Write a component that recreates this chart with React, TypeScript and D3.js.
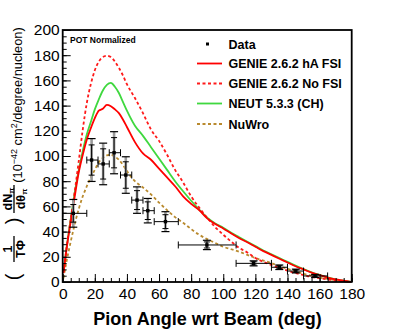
import * as d3 from "d3";
import { useEffect, useRef } from "react";

// pion angle grid used for the generator curves (deg)
const angleGrid = [0.5, 2.5, 5, 7.5, 10, 12.5, 15, 17.5, 20, 22.5, 25, 27.5, 30, 32.5, 35, 37.5, 40, 45, 50, 55, 60, 65, 70, 75, 80, 85, 90, 95, 100, 105, 110, 115, 120, 125, 130, 135, 140, 145, 150, 155, 160, 165, 170, 175, 179.5];

const genieHA = [7, 27, 48, 68, 87, 101, 113, 122, 130, 136, 137.5, 140.5, 139.5, 137, 134, 129, 123, 111, 102, 97, 90, 83, 76, 68, 62, 57, 50.5, 46, 42.5, 38.5, 34.7, 31.5, 28, 24.5, 21.5, 18.5, 15.5, 12.5, 10, 7.5, 5.5, 3.5, 2, 1, 0];
const genieNoFSI = [8, 28, 50, 72, 96, 121, 142, 157, 168, 175, 178.5, 179.5, 178.5, 175, 170, 164, 157, 146, 134, 121, 112, 101, 89, 79, 68, 59, 51, 43.5, 37.5, 32, 27, 23.5, 19, 16, 13.5, 11, 9, 7, 5.5, 4, 3, 2, 1.2, 0.5, 0];
const neut = [8, 28, 50, 71, 89, 104, 117, 127, 137, 145, 152, 156.5, 158, 155, 150, 143, 136, 124, 116, 107, 98, 89, 80, 72, 64.5, 57.5, 51, 46.5, 43, 39, 35.5, 32, 28.5, 25, 22, 19, 16, 13, 10.2, 7.7, 5.6, 3.6, 2.1, 1, 0];
const nuwro = [3, 17, 32, 46, 58, 68, 76, 83, 89, 95, 98.5, 100.5, 101, 99.5, 97, 93, 88, 80, 75, 69.5, 63, 57, 51.5, 47, 42, 37.5, 34, 31, 28, 26, 24, 21.5, 19, 17, 15, 12.5, 10.5, 8.5, 6.5, 5, 3.5, 2.5, 1.5, 0.7, 0];

// data points
const dataAngle = [6.6, 18, 25.2, 32, 39.3, 46.3, 53, 64, 89.8, 118.9, 134.9, 145.2, 157.2];
const binLow = [0, 15, 22, 29, 36, 43, 50, 57, 72, 108, 130, 140, 150];
const binHigh = [15, 22, 29, 36, 43, 50, 57, 72, 108, 130, 140, 150, 165];
const xsec = [54.5, 96.8, 93.7, 102.6, 84.9, 65, 56.6, 47.9, 29.4, 14.8, 11.7, 8.7, 4.8];
const totErr = [11, 17, 16.5, 16.7, 14.5, 10.5, 9.7, 7.9, 3.7, 2, 1.8, 1.5, 1.2];
const statErr = [7, 12, 12, 12, 10.5, 7.5, 7, 5.5, 2.4, 1.3, 1.2, 1, 0.8];

const legendNames = ["Data", "GENIE 2.6.2 hA FSI", "GENIE 2.6.2 No FSI", "NEUT 5.3.3 (CH)", "NuWro"];

const FONT = "'Liberation Sans', Arial, Helvetica, sans-serif";

export default function App() {
    const ref = useRef<SVGSVGElement>(null);

    useEffect(() => {
        const svg = d3.select(ref.current);
        svg.selectAll("*").remove();

        const width = 415;
        const height = 335;
        const left = 62.7, right = 351.7, top = 30, bottom = 282;

        svg.attr("width", width).attr("height", height).style("font-family", FONT);
        svg.append("rect").attr("width", width).attr("height", height).attr("fill", "white");

        const x = d3.scaleLinear().domain([0, 180]).range([left, right]);
        const y = d3.scaleLinear().domain([0, 200]).range([bottom, top]);

        const series = [
            { vals: genieHA, color: "#ff0000", dash: null },
            { vals: genieNoFSI, color: "#ff1a1a", dash: "3,2.5" },
            { vals: neut, color: "#3fd83f", dash: null },
            { vals: nuwro, color: "#b98a2e", dash: "3,2.5" },
        ];

        const line = d3.line<number>()
            .x((_, i) => x(angleGrid[i]))
            .y(d => y(d))
            .curve(d3.curveMonotoneX);

        // curves (green under red like ROOT draw order)
        [series[2], series[3], series[1], series[0]].forEach(s => {
            svg.append("path")
                .attr("d", line(s.vals))
                .attr("fill", "none")
                .attr("stroke", s.color)
                .attr("stroke-width", 1.8)
                .attr("stroke-dasharray", s.dash);
        });

        // data points
        const gd = svg.append("g");
        dataAngle.forEach((a, i) => {
            const cx = x(a), cy = y(xsec[i]);
            // total error: grey band + black caps
            gd.append("line").attr("x1", cx).attr("x2", cx)
                .attr("y1", y(xsec[i] - totErr[i])).attr("y2", y(xsec[i] + totErr[i]))
                .attr("stroke", "#9a9a9a").attr("stroke-width", 2.6);
            [xsec[i] - totErr[i], xsec[i] + totErr[i]].forEach(v => {
                gd.append("line").attr("x1", cx - 4).attr("x2", cx + 4)
                    .attr("y1", y(v)).attr("y2", y(v))
                    .attr("stroke", "black").attr("stroke-width", 1.2);
            });
            // stat error (black)
            gd.append("line").attr("x1", cx).attr("x2", cx)
                .attr("y1", y(xsec[i] - statErr[i])).attr("y2", y(xsec[i] + statErr[i]))
                .attr("stroke", "black").attr("stroke-width", 1);
            [xsec[i] - statErr[i], xsec[i] + statErr[i]].forEach(v => {
                gd.append("line").attr("x1", cx - 3).attr("x2", cx + 3)
                    .attr("y1", y(v)).attr("y2", y(v))
                    .attr("stroke", "black").attr("stroke-width", 1);
            });
            // bin width
            gd.append("line").attr("x1", x(binLow[i])).attr("x2", x(binHigh[i]))
                .attr("y1", cy).attr("y2", cy)
                .attr("stroke", "black").attr("stroke-width", 1);
            [binLow[i], binHigh[i]].forEach(b => {
                gd.append("line").attr("x1", x(b)).attr("x2", x(b))
                    .attr("y1", cy - 3.5).attr("y2", cy + 3.5)
                    .attr("stroke", "black").attr("stroke-width", 1);
            });
            gd.append("rect").attr("x", cx - 1.7).attr("y", cy - 1.7)
                .attr("width", 3.4).attr("height", 3.4).attr("fill", "black");
        });

        // axes: ticks pointing inward
        const xMajor = d3.axisBottom(x).tickValues(d3.range(0, 181, 20)).tickSizeInner(-8).tickSizeOuter(0).tickPadding(6);
        const xMinor = d3.axisBottom(x).tickValues(d3.range(0, 181, 5)).tickSizeInner(-4).tickSizeOuter(0).tickFormat(() => "");
        const yMajor = d3.axisLeft(y).tickValues(d3.range(0, 201, 20)).tickSizeInner(-8).tickSizeOuter(0).tickPadding(3);
        const yMinor = d3.axisLeft(y).tickValues(d3.range(0, 201, 5)).tickSizeInner(-4).tickSizeOuter(0).tickFormat(() => "");

        const ax = svg.append("g").attr("transform", `translate(0,${bottom})`);
        ax.append("g").call(xMinor);
        ax.append("g").call(xMajor);
        const ay = svg.append("g").attr("transform", `translate(${left},0)`);
        ay.append("g").call(yMinor);
        ay.append("g").call(yMajor);

        svg.selectAll(".domain").remove();
        svg.selectAll(".tick line").attr("stroke", "black").attr("stroke-width", 1);
        svg.selectAll(".tick text")
            .attr("fill", "black")
            .style("font-family", FONT)
            .style("font-size", "15.5px");

        // frame
        svg.append("rect")
            .attr("x", left).attr("y", top)
            .attr("width", right - left).attr("height", bottom - top)
            .attr("fill", "none").attr("stroke", "black").attr("stroke-width", 1.8);

        // x title
        svg.append("text")
            .attr("x", 207.5).attr("y", 325)
            .attr("text-anchor", "middle")
            .style("font-size", "18px").style("font-weight", "bold")
            .text("Pion Angle wrt Beam (deg)");

        // y title (rotated)
        const yt = svg.append("g").attr("transform", "rotate(-90)");
        const paren = (u: number, t: string) =>
            yt.append("text").attr("x", u).attr("y", 19.5).attr("text-anchor", "middle")
                .style("font-size", "20px").text(t);
        paren(-277, "(");
        paren(-221, ")");
        yt.append("text").attr("x", -249).attr("y", 12).attr("text-anchor", "middle")
            .style("font-size", "12.5px").style("font-weight", "bold").text("1");
        yt.append("line").attr("x1", -262).attr("x2", -236).attr("y1", 14).attr("y2", 14)
            .attr("stroke", "black").attr("stroke-width", 1.3);
        yt.append("text").attr("x", -249).attr("y", 24.5).attr("text-anchor", "middle")
            .style("font-size", "12.5px").style("font-weight", "bold").text("TΦ");

        const num = yt.append("text").attr("x", -199).attr("y", 12).attr("text-anchor", "middle")
            .style("font-size", "12.5px").style("font-weight", "bold");
        num.append("tspan").text("dN");
        num.append("tspan").attr("dy", 2).style("font-size", "8px").text("π");
        yt.append("line").attr("x1", -213).attr("x2", -185).attr("y1", 14).attr("y2", 14)
            .attr("stroke", "black").attr("stroke-width", 1.3);
        const den = yt.append("text").attr("x", -199).attr("y", 24.5).attr("text-anchor", "middle")
            .style("font-size", "12.5px").style("font-weight", "bold");
        den.append("tspan").text("dθ");
        den.append("tspan").attr("dy", 2).style("font-size", "8px").text("π");

        const units = yt.append("text").attr("x", -105).attr("y", 22).attr("text-anchor", "middle")
            .style("font-size", "12.8px");
        units.append("tspan").text("(10");
        units.append("tspan").attr("dy", -5.5).style("font-size", "9px").text("−42");
        units.append("tspan").attr("dy", 5.5).text(" cm");
        units.append("tspan").attr("dy", -5.5).style("font-size", "9px").text("2");
        units.append("tspan").attr("dy", 5.5).text("/degree/nucleon)");

        // POT label
        svg.append("text").attr("x", 70).attr("y", 43.3)
            .style("font-size", "8.5px").style("font-weight", "bold")
            .text("POT Normalized");

        // legend
        const lg = svg.append("g");
        const rowY = [44, 63.5, 83.5, 103.5, 124];
        legendNames.forEach((name, i) => {
            if (i === 0) {
                lg.append("rect").attr("x", 206).attr("y", rowY[i] - 1.5)
                    .attr("width", 3).attr("height", 3).attr("fill", "black");
            } else {
                const s = series[i - 1];
                lg.append("line").attr("x1", 197).attr("x2", 222)
                    .attr("y1", rowY[i]).attr("y2", rowY[i])
                    .attr("stroke", s.color).attr("stroke-width", 1.8)
                    .attr("stroke-dasharray", s.dash);
            }
            lg.append("text").attr("x", 228.5).attr("y", rowY[i])
                .attr("dy", "0.36em")
                .style("font-size", "12.5px").style("font-weight", "bold")
                .text(name);
        });
    }, []);

    return (
        <div style={{ position: "absolute", left: 0, top: 0 }}>
            <svg ref={ref} />
        </div>
    );
}
